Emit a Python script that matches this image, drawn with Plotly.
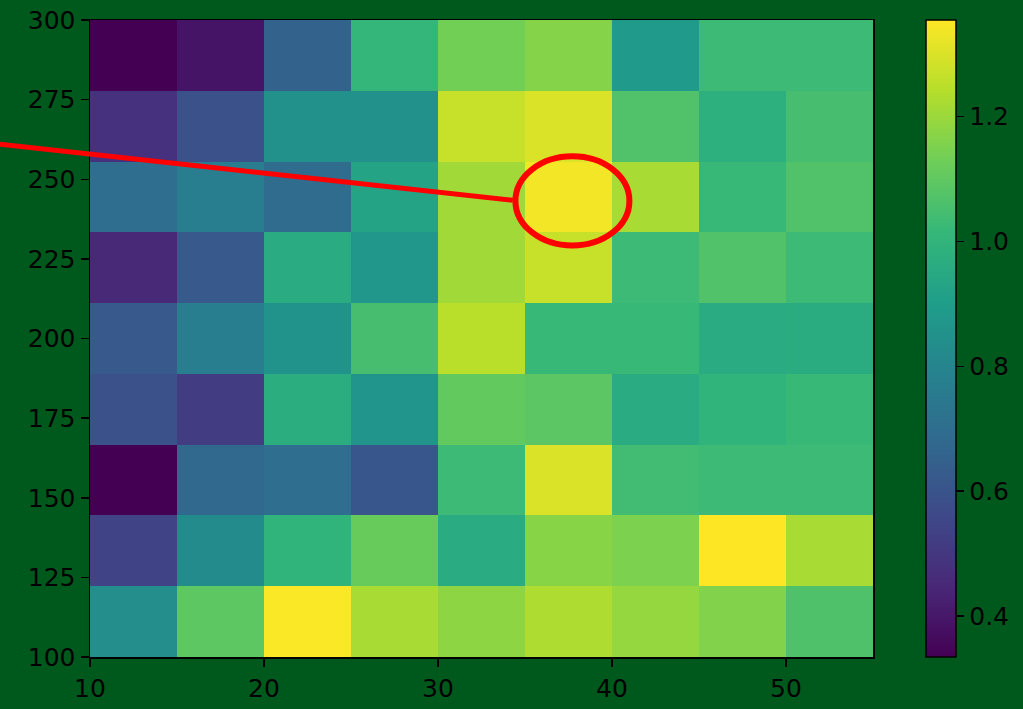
import numpy as np
import plotly.graph_objects as go

# cell edges
x_edges = [10, 15, 20, 25, 30, 35, 40, 45, 50, 55]
y_edges = list(np.linspace(100, 300, 10))

# values, rows from bottom (y=100) to top (y=300)
z_rows = [
    [0.835, 1.095, 1.35, 1.22, 1.18, 1.23, 1.19, 1.16, 1.065],
    [0.54, 0.825, 0.995, 1.115, 0.96, 1.17, 1.15, 1.355, 1.22],
    [0.335, 0.675, 0.70, 0.61, 1.03, 1.30, 1.04, 1.03, 1.03],
    [0.59, 0.52, 0.97, 0.865, 1.105, 1.09, 0.96, 0.995, 1.02],
    [0.62, 0.77, 0.855, 1.05, 1.25, 1.02, 1.02, 0.96, 0.965],
    [0.45, 0.62, 0.96, 0.87, 1.21, 1.27, 1.03, 1.07, 1.03],
    [0.70, 0.77, 0.69, 0.93, 1.21, 1.34, 1.22, 1.02, 1.07],
    [0.48, 0.59, 0.845, 0.845, 1.27, 1.30, 1.07, 0.98, 1.05],
    [0.335, 0.39, 0.655, 1.01, 1.135, 1.165, 0.885, 1.03, 1.03],
]

x_ticks = [10, 20, 30, 40, 50]
y_ticks = [100, 125, 150, 175, 200, 225, 250, 275, 300]
cb_ticks = [0.4, 0.6, 0.8, 1.0, 1.2]

BG = "#00591c"
FONT = dict(family="DejaVu Sans", size=25, color="black")

fig = go.Figure()
fig.add_trace(go.Heatmap(
    x=x_edges, y=y_edges, z=z_rows,
    colorscale="Viridis",
    zmin=0.334, zmax=1.355,
    colorbar=dict(
        x=1.0677, xanchor="left", xpad=0, ypad=0,
        y=0, yanchor="bottom", len=1, lenmode="fraction",
        thickness=30, thicknessmode="pixels",
        outlinewidth=1.5, outlinecolor="black",
        tickvals=cb_ticks, ticktext=[f"{v:.1f}" for v in cb_ticks],
        ticks="outside", ticklen=8, tickwidth=1.5, tickcolor="black",
        tickfont=FONT,
    ),
    hoverinfo="skip",
))

axis_common = dict(
    showgrid=False, zeroline=False, automargin=False,
    showline=True, linecolor="black", linewidth=1.5, mirror=True,
    ticks="outside", ticklen=8, tickwidth=1.5, tickcolor="black",
    tickfont=FONT,
)
fig.update_xaxes(range=[10, 55], tickvals=x_ticks, **axis_common)
fig.update_yaxes(range=[100, 300], tickvals=y_ticks, **axis_common)

# red annotation: pointer line and ellipse around the peak cell
fig.add_shape(type="line", xref="x domain", yref="y domain",
              x0=-0.115, y0=0.805, x1=0.540, y1=0.717,
              line=dict(color="#ff0000", width=5))
fig.add_shape(type="circle", xref="x", yref="y",
              x0=34.45, x1=41.0, y0=229.2, y1=257.2,
              line=dict(color="#ff0000", width=6))

fig.update_layout(
    width=1023, height=709,
    margin=dict(l=90, r=150, t=20, b=52, autoexpand=False),
    paper_bgcolor=BG, plot_bgcolor=BG,
    font=FONT,
    showlegend=False,
)

fig.write_html("out.html", config={"displayModeBar": False, "staticPlot": True})

# remove the default page margin so the figure fills the window exactly
with open("out.html", "r", encoding="utf-8") as f:
    html = f.read()
html = html.replace("<head>", "<head><style>html,body{margin:0;padding:0;overflow:hidden;background:%s}</style>" % BG, 1)
with open("out.html", "w", encoding="utf-8") as f:
    f.write(html)
